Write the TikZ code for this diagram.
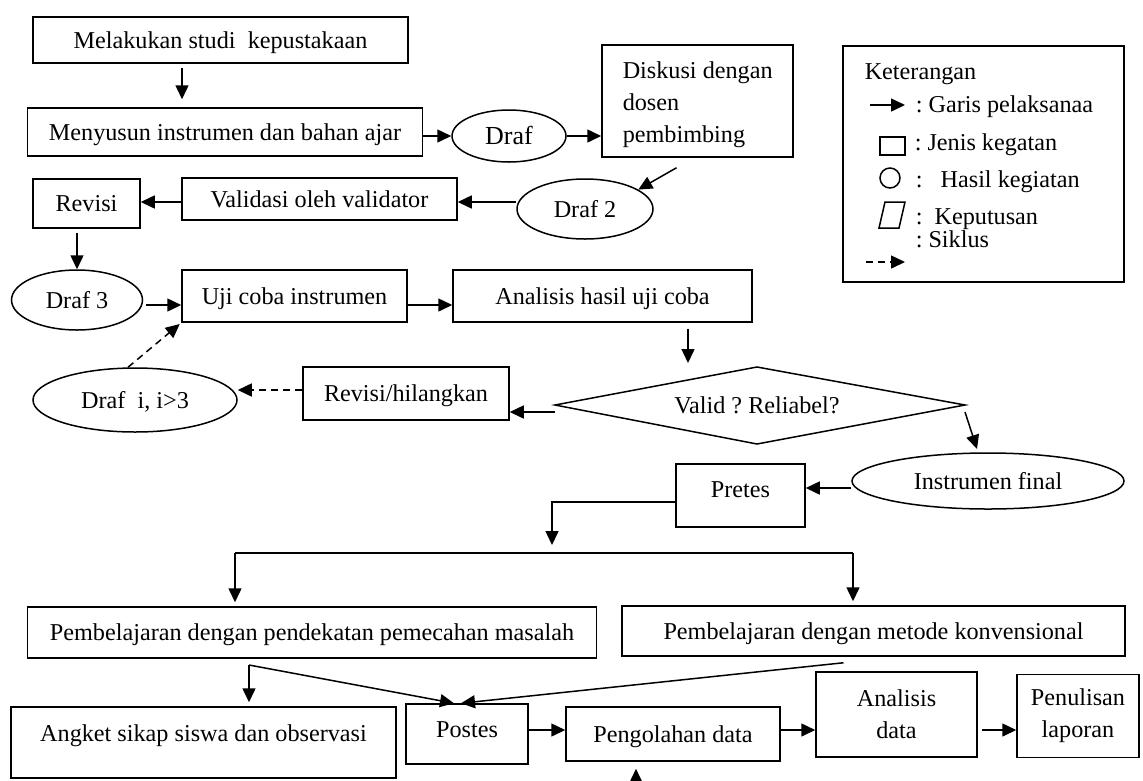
\documentclass[tikz,border=0pt]{standalone}
\usepackage{fontspec}
\setmainfont{Liberation Serif}
\usetikzlibrary{arrows.meta,calc,shapes.geometric}
\begin{document}
\frenchspacing
\begin{tikzpicture}[x=1pt,y=-1pt, line width=1.5pt,
  one/.style={text height=20pt, text depth=4pt},
  box/.style={draw, rectangle, inner sep=0pt, align=center},
  sbox/.style={box, one},
  oval/.style={draw, ellipse, inner sep=0pt, one},
  arr/.style={-{Triangle[length=14pt,width=13pt]}},
  dasharr/.style={arr, dash pattern=on 7pt off 5pt},
  txt/.style={inner sep=0pt, anchor=west, one},
  font=\fontsize{24.2}{32}\selectfont]
\useasboundingbox (0,0) rectangle (1143,780);

% nodes
\node[sbox, minimum width=375pt, minimum height=46pt] (b1) at (220.5,40) {Melakukan studi\ \ kepustakaan};
\node[sbox, minimum width=395pt, minimum height=48pt] (b2) at (225,132) {Menyusun instrumen dan bahan ajar};
\node[oval, minimum width=114pt, minimum height=52pt, font=\fontsize{26}{32}\selectfont] (e1) at (509,136) {Draf};
\node[box, minimum width=191pt, minimum height=112pt] (b3) at (697.5,101) {};
\node[inner sep=0pt, anchor=north west, align=left] (t3) at (622,61) {Diskusi dengan\\dosen\\pembimbing};
\node[oval, minimum width=136pt, minimum height=60pt] (e2) at (585,209) {Draf 2};
\node[sbox, minimum width=107pt, minimum height=49pt] (b4) at (86.5,203.5) {Revisi};
\node[sbox, minimum width=275pt, minimum height=42pt] (b5) at (319.5,199) {Validasi oleh validator};
\node[oval, minimum width=131pt, minimum height=60pt] (e3) at (77,300) {Draf 3};
\node[sbox, minimum width=225pt, minimum height=52pt] (b6) at (294.5,296) {Uji coba instrumen};
\node[sbox, minimum width=299pt, minimum height=52pt] (b7) at (602.5,296) {Analisis hasil uji coba};
\node[oval, minimum width=204pt, minimum height=64pt] (e4) at (135,400) {Draf\ \ i, i>3};
\node[sbox, minimum width=206pt, minimum height=53pt] (b8) at (406,393.5) {Revisi/hilangkan};
\coordinate (dL) at (555,405);
\coordinate (dT) at (757,367);
\coordinate (dR) at (965,405);
\coordinate (dB) at (757,444);
\draw (dL) -- (dT) -- (dR) -- (dB) -- cycle;
\node[inner sep=0pt, one] (d1) at (757,405) {Valid ? Reliabel?};
\node[oval, minimum width=272pt, minimum height=56pt] (e5) at (988,481) {Instrumen final};
\node[sbox, minimum width=129pt, minimum height=63pt] (b9) at (740.5,495.5) {};
\node[inner sep=0pt, one] (t9) at (740.5,489) {Pretes};
\node[sbox, minimum width=569pt, minimum height=51pt] (b10) at (312,632.5) {Pembelajaran dengan pendekatan pemecahan masalah};
\node[sbox, minimum width=503pt, minimum height=50pt] (b11) at (873.5,631) {Pembelajaran dengan metode konvensional};
\node[box, minimum width=385pt, minimum height=71pt] (b12) at (203.5,742.5) {};
\node[inner sep=0pt, one] (t12) at (203.5,733) {Angket sikap siswa dan observasi};
\node[box, minimum width=122pt, minimum height=60pt] (b13) at (467,734) {};
\node[inner sep=0pt, one] (t13) at (467,729) {Postes};
\node[sbox, minimum width=214pt, minimum height=54pt] (b14) at (673,734) {Pengolahan data};
\node[box, minimum width=161pt, minimum height=85pt] (b15) at (896.5,714.5) {Analisis\\data};
\node[box, minimum width=122pt, minimum height=83pt] (b16) at (1078,716) {Penulisan\\laporan};

% legend
\node[draw, minimum width=281pt, minimum height=236pt, inner sep=0pt] (kt) at (983.5,164) {};
\node[txt] (k0) at (864,71) {Keterangan};
\draw[arr] (870,105) -- (905,105);
\node[txt] (k1) at (915,104) {: Garis pelaksanaa};
\draw (880,137) rectangle (905,155);
\node[txt] (k2) at (914,142) {: Jenis kegatan};
\draw (890,178) circle[radius=10];
\node[txt] (k3) at (915,179) {:\ \ \ Hasil kegiatan};
\draw (879,228) -- (899,228) -- (905,202) -- (885,202) -- cycle;
\node[txt] (k4) at (915,216) {:\ \ Keputusan};
\node[txt] (k5) at (915,239) {: Siklus};
\draw[dasharr] (866,262) -- (905,262);

% connectors
\coordinate (x182) at (182,0);
\draw[arr,shorten <=4pt,shorten >=8pt] (b1.south -| x182) -- (b2.north -| x182);
\draw[arr] (b2.east |- e1.west) -- (e1.west);
\draw[arr] (e1.east) -- (b3.west |- e1.east);
\draw[arr] ($(b3.south)+(-21,10)$) -- (e2.20);
\coordinate (y202) at (0,202);
\draw[arr] (e2.west |- y202) -- (b5.east |- y202);
\draw[arr] (b5.west |- y202) -- (b4.east |- y202);
\draw[arr,shorten <=4pt] (b4.south -| e3.north) -- (e3.north);
\coordinate (y305) at (0,305);
\draw[arr,shorten <=3pt] (e3.east |- y305) -- (b6.west |- y305);
\draw[arr] (b6.east |- y305) -- (b7.west |- y305);
\coordinate (x688) at (688,0);
\coordinate (a10) at (688,363);
\draw[arr,shorten <=6pt] (b7.south -| x688) -- (a10);
\coordinate (y412) at (0,412);
\draw[arr] (dL |- y412) -- (b8.east |- y412);
\coordinate (y390) at (0,390);
\draw[dasharr] (b8.west |- y390) -- (e4.east |- y390);
\draw[dasharr,shorten >=2pt] ([xshift=-7pt]e4.north) -- (b6.south west);
\coordinate (a14) at (977,449);
\draw[arr] ([yshift=-7pt]dR) -- (a14);
\coordinate (y488) at (0,488);
\draw[arr] (e5.west |- y488) -- (b9.east |- y488);
\coordinate (y502) at (0,502);
\coordinate (a16) at (552,545);
\draw[arr] (b9.west |- y502) -| (a16);
\coordinate (hL) at (235,553);
\coordinate (hR) at (853,553);
\draw (hL) -- (hR);
\draw[arr,shorten >=4pt] (hL) -- (hL |- b10.north);
\draw[arr,shorten >=4pt] (hR) -- (hR |- b11.north);
\coordinate (s10) at (249,665);
\draw[arr,shorten >=4pt] (s10) -- (s10 |- b12.north);
\draw[arr] (s10) -- ([xshift=-13pt]b13.north);
\draw[arr] ($(b11.south)+(-30,6)$) -- ([xshift=-6pt]b13.north);
\coordinate (y730) at (0,730);
\draw[arr] (b13.east |- y730) -- (b14.west |- y730);
\coordinate (a24) at (636,782);
\draw[arr,shorten >=7pt] (a24) -- (b14.south -| a24);
\draw[arr] (b14.east |- y730) -- (b15.west |- y730);
\draw[arr,shorten <=4pt] (b15.east |- y730) -- (b16.west |- y730);
\end{tikzpicture}
\end{document}
